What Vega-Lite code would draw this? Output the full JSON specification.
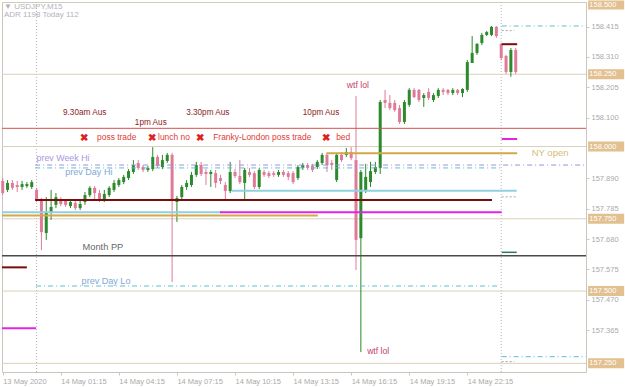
{
  "$schema": "https://vega.github.io/schema/vega-lite/v6.json",
  "width": 584,
  "height": 370,
  "autosize": "none",
  "padding": {"left": 2, "top": 2, "right": 39, "bottom": 15},
  "background": "white",
  "config": {"view": {"stroke": "#cbc6bb"}, "font": "Liberation Sans"},
  "datasets": {
    "candles": [
      {"i":0,"o":157.881,"h":157.891,"l":157.832,"c":157.839},
      {"i":1,"o":157.850,"h":157.884,"l":157.843,"c":157.874},
      {"i":2,"o":157.874,"h":157.884,"l":157.850,"c":157.857},
      {"i":3,"o":157.867,"h":157.881,"l":157.843,"c":157.860},
      {"i":4,"o":157.860,"h":157.881,"l":157.850,"c":157.870},
      {"i":5,"o":157.863,"h":157.877,"l":157.857,"c":157.870},
      {"i":6,"o":157.860,"h":157.884,"l":157.853,"c":157.877},
      {"i":7,"o":157.850,"h":157.857,"l":157.808,"c":157.815},
      {"i":8,"o":157.815,"h":157.822,"l":157.642,"c":157.704},
      {"i":9,"o":157.701,"h":157.825,"l":157.677,"c":157.770},
      {"i":10,"o":157.770,"h":157.850,"l":157.746,"c":157.791},
      {"i":11,"o":157.798,"h":157.839,"l":157.787,"c":157.825},
      {"i":12,"o":157.815,"h":157.825,"l":157.794,"c":157.801},
      {"i":13,"o":157.812,"h":157.818,"l":157.791,"c":157.798},
      {"i":14,"o":157.794,"h":157.818,"l":157.787,"c":157.808},
      {"i":15,"o":157.805,"h":157.815,"l":157.780,"c":157.787},
      {"i":16,"o":157.787,"h":157.815,"l":157.780,"c":157.801},
      {"i":17,"o":157.808,"h":157.843,"l":157.798,"c":157.832},
      {"i":18,"o":157.832,"h":157.863,"l":157.825,"c":157.857},
      {"i":19,"o":157.857,"h":157.863,"l":157.815,"c":157.839},
      {"i":20,"o":157.839,"h":157.850,"l":157.808,"c":157.818},
      {"i":21,"o":157.815,"h":157.850,"l":157.808,"c":157.836},
      {"i":22,"o":157.832,"h":157.863,"l":157.825,"c":157.857},
      {"i":23,"o":157.850,"h":157.884,"l":157.843,"c":157.874},
      {"i":24,"o":157.867,"h":157.891,"l":157.860,"c":157.884},
      {"i":25,"o":157.877,"h":157.902,"l":157.870,"c":157.895},
      {"i":26,"o":157.891,"h":157.922,"l":157.884,"c":157.915},
      {"i":27,"o":157.912,"h":157.953,"l":157.905,"c":157.936},
      {"i":28,"o":157.943,"h":157.953,"l":157.919,"c":157.926},
      {"i":29,"o":157.929,"h":157.936,"l":157.912,"c":157.919},
      {"i":30,"o":157.919,"h":157.933,"l":157.912,"c":157.926},
      {"i":31,"o":157.922,"h":157.998,"l":157.915,"c":157.964},
      {"i":32,"o":157.964,"h":157.971,"l":157.926,"c":157.933},
      {"i":33,"o":157.929,"h":157.971,"l":157.922,"c":157.953},
      {"i":34,"o":157.950,"h":157.978,"l":157.943,"c":157.971},
      {"i":35,"o":157.971,"h":157.978,"l":157.531,"c":157.818},
      {"i":36,"o":157.808,"h":157.829,"l":157.739,"c":157.822},
      {"i":37,"o":157.825,"h":157.867,"l":157.818,"c":157.860},
      {"i":38,"o":157.860,"h":157.884,"l":157.850,"c":157.874},
      {"i":39,"o":157.867,"h":157.912,"l":157.860,"c":157.902},
      {"i":40,"o":157.902,"h":157.947,"l":157.895,"c":157.936},
      {"i":41,"o":157.936,"h":157.947,"l":157.898,"c":157.905},
      {"i":42,"o":157.912,"h":157.922,"l":157.867,"c":157.905},
      {"i":43,"o":157.905,"h":157.919,"l":157.860,"c":157.912},
      {"i":44,"o":157.908,"h":157.919,"l":157.857,"c":157.874},
      {"i":45,"o":157.891,"h":157.902,"l":157.870,"c":157.881},
      {"i":46,"o":157.867,"h":157.877,"l":157.815,"c":157.846},
      {"i":47,"o":157.846,"h":157.947,"l":157.839,"c":157.912},
      {"i":48,"o":157.912,"h":157.922,"l":157.891,"c":157.898},
      {"i":49,"o":157.898,"h":157.953,"l":157.870,"c":157.877},
      {"i":50,"o":157.874,"h":157.926,"l":157.815,"c":157.919},
      {"i":51,"o":157.912,"h":157.926,"l":157.895,"c":157.902},
      {"i":52,"o":157.908,"h":157.915,"l":157.853,"c":157.860},
      {"i":53,"o":157.860,"h":157.926,"l":157.853,"c":157.919},
      {"i":54,"o":157.912,"h":157.919,"l":157.895,"c":157.902},
      {"i":55,"o":157.908,"h":157.915,"l":157.891,"c":157.898},
      {"i":56,"o":157.908,"h":157.915,"l":157.895,"c":157.902},
      {"i":57,"o":157.902,"h":157.919,"l":157.895,"c":157.912},
      {"i":58,"o":157.912,"h":157.919,"l":157.895,"c":157.902},
      {"i":59,"o":157.908,"h":157.915,"l":157.884,"c":157.895},
      {"i":60,"o":157.908,"h":157.915,"l":157.870,"c":157.877},
      {"i":61,"o":157.891,"h":157.936,"l":157.884,"c":157.929},
      {"i":62,"o":157.926,"h":157.943,"l":157.919,"c":157.936},
      {"i":63,"o":157.936,"h":157.943,"l":157.919,"c":157.926},
      {"i":64,"o":157.933,"h":157.940,"l":157.912,"c":157.919},
      {"i":65,"o":157.929,"h":157.953,"l":157.922,"c":157.947},
      {"i":66,"o":157.943,"h":157.978,"l":157.936,"c":157.971},
      {"i":67,"o":157.971,"h":157.978,"l":157.912,"c":157.936},
      {"i":68,"o":157.943,"h":157.953,"l":157.919,"c":157.936},
      {"i":69,"o":157.884,"h":157.978,"l":157.877,"c":157.971},
      {"i":70,"o":157.971,"h":157.981,"l":157.947,"c":157.953},
      {"i":71,"o":157.971,"h":157.995,"l":157.964,"c":157.981},
      {"i":72,"o":157.981,"h":157.998,"l":157.953,"c":157.960},
      {"i":73,"o":157.953,"h":158.175,"l":157.573,"c":157.677},
      {"i":74,"o":157.683,"h":157.919,"l":157.289,"c":157.912},
      {"i":75,"o":157.846,"h":157.940,"l":157.839,"c":157.895},
      {"i":76,"o":157.877,"h":157.947,"l":157.860,"c":157.915},
      {"i":77,"o":157.912,"h":157.947,"l":157.905,"c":157.929},
      {"i":78,"o":157.926,"h":158.161,"l":157.905,"c":158.154},
      {"i":79,"o":158.161,"h":158.196,"l":158.133,"c":158.151},
      {"i":80,"o":158.151,"h":158.178,"l":158.126,"c":158.133},
      {"i":81,"o":158.151,"h":158.161,"l":158.120,"c":158.126},
      {"i":82,"o":158.133,"h":158.144,"l":158.078,"c":158.085},
      {"i":83,"o":158.085,"h":158.161,"l":158.078,"c":158.154},
      {"i":84,"o":158.144,"h":158.202,"l":158.137,"c":158.196},
      {"i":85,"o":158.196,"h":158.202,"l":158.168,"c":158.171},
      {"i":86,"o":158.196,"h":158.199,"l":158.154,"c":158.161},
      {"i":87,"o":158.168,"h":158.185,"l":158.137,"c":158.178},
      {"i":88,"o":158.189,"h":158.202,"l":158.161,"c":158.168},
      {"i":89,"o":158.161,"h":158.185,"l":158.154,"c":158.178},
      {"i":90,"o":158.175,"h":158.202,"l":158.168,"c":158.196},
      {"i":91,"o":158.196,"h":158.202,"l":158.178,"c":158.189},
      {"i":92,"o":158.196,"h":158.199,"l":158.178,"c":158.185},
      {"i":93,"o":158.185,"h":158.202,"l":158.178,"c":158.196},
      {"i":94,"o":158.196,"h":158.199,"l":158.178,"c":158.185},
      {"i":95,"o":158.185,"h":158.202,"l":158.171,"c":158.199},
      {"i":96,"o":158.196,"h":158.299,"l":158.189,"c":158.292},
      {"i":97,"o":158.289,"h":158.382,"l":158.289,"c":158.324},
      {"i":98,"o":158.324,"h":158.358,"l":158.317,"c":158.355},
      {"i":99,"o":158.358,"h":158.393,"l":158.351,"c":158.386},
      {"i":100,"o":158.386,"h":158.400,"l":158.382,"c":158.396},
      {"i":101,"o":158.386,"h":158.417,"l":158.382,"c":158.414},
      {"i":102,"o":158.414,"h":158.417,"l":158.376,"c":158.382},
      {"i":103,"o":158.355,"h":158.358,"l":158.299,"c":158.306},
      {"i":104,"o":158.313,"h":158.317,"l":158.251,"c":158.258},
      {"i":105,"o":158.258,"h":158.341,"l":158.241,"c":158.334},
      {"i":106,"o":158.334,"h":158.341,"l":158.251,"c":158.258}
    ],
    "segs": [
      {"k":"round","x1":-0.145,"x2":120.52,"p":158.5},
      {"k":"round","x1":-0.145,"x2":120.52,"p":158.25},
      {"k":"round","x1":-0.145,"x2":120.52,"p":158.0},
      {"k":"round","x1":-0.145,"x2":120.52,"p":157.75},
      {"k":"round","x1":-0.145,"x2":120.52,"p":157.5},
      {"k":"round","x1":-0.145,"x2":120.52,"p":157.25},
      {"k":"red","x1":-0.145,"x2":120.52,"p":158.063},
      {"k":"mpp","x1":-0.145,"x2":120.52,"p":157.622},
      {"k":"pwh","x1":6.7,"x2":120.52,"p":157.936},
      {"k":"pd","x1":6.7,"x2":102.9,"p":157.926},
      {"k":"pd","x1":103.1,"x2":120.52,"p":158.417},
      {"k":"pd","x1":6.9,"x2":102.3,"p":157.5175},
      {"k":"pd","x1":103.1,"x2":120.52,"p":157.273},
      {"k":"maroon","x1":-0.145,"x2":5.0,"p":157.582},
      {"k":"maroon","x1":6.7,"x2":101.1,"p":157.815},
      {"k":"maroon","x1":103.1,"x2":106.3,"p":158.354},
      {"k":"magenta","x1":-0.145,"x2":6.9,"p":157.371},
      {"k":"magenta","x1":44.9,"x2":103.1,"p":157.7725},
      {"k":"magenta","x1":103.1,"x2":106.3,"p":158.026},
      {"k":"lblue","x1":-0.145,"x2":45.3,"p":157.7725},
      {"k":"lblue","x1":47.3,"x2":106.2,"p":157.847},
      {"k":"gold","x1":-0.145,"x2":65.1,"p":157.761},
      {"k":"gold","x1":66.9,"x2":106.3,"p":157.977},
      {"k":"dkgreen","x1":103.1,"x2":106.2,"p":157.634},
      {"k":"gdot","x1":103.1,"x2":105.7,"p":158.401},
      {"k":"gdot","x1":103.1,"x2":106.0,"p":157.826},
      {"k":"gdot","x1":103.1,"x2":105.7,"p":157.256}
    ],
    "levels": [
      {"p":158.5,"t":"158.500"},
      {"p":158.25,"t":"158.250"},
      {"p":158.0,"t":"158.000"},
      {"p":157.75,"t":"157.750"},
      {"p":157.5,"t":"157.500"},
      {"p":157.25,"t":"157.250"}
    ],
    "vlines": [{"i":7},{"i":103}],
    "notes": [
      {"k":"hdr","i":0.27,"p":158.483,"t":"▼ USDJPY,M15"},
      {"k":"hdr","i":0.27,"p":158.455,"t":"ADR 1198   Today 112"},
      {"k":"aus","i":12.46,"p":158.117,"t":"9.30am Aus"},
      {"k":"aus","i":27.3,"p":158.082,"t":"1pm Aus"},
      {"k":"aus","i":37.9,"p":158.116,"t":"3.30pm Aus"},
      {"k":"aus","i":62.0,"p":158.116,"t":"10pm Aus"},
      {"k":"red","i":19.5,"p":158.033,"t":"poss trade"},
      {"k":"red","i":32.1,"p":158.033,"t":"lunch no"},
      {"k":"red","i":43.5,"p":158.033,"t":"Franky-London poss trade"},
      {"k":"red","i":68.9,"p":158.033,"t":"bed"},
      {"k":"wtf","i":71.1,"p":158.213,"t":"wtf lol"},
      {"k":"wtf","i":75.3,"p":157.293,"t":"wtf lol"},
      {"k":"pwh","i":7.0,"p":157.960,"t":"prev Week Hi"},
      {"k":"pd","i":12.9,"p":157.913,"t":"prev Day Hi"},
      {"k":"pd","i":16.3,"p":157.535,"t":"prev Day Lo"},
      {"k":"mpp","i":16.5,"p":157.652,"t":"Month PP"},
      {"k":"ny","i":109.3,"p":157.978,"t":"NY open"}
    ],
    "marks": [
      {"i":16.8,"p":158.030},
      {"i":30.8,"p":158.030},
      {"i":40.8,"p":158.030},
      {"i":66.8,"p":158.030}
    ]
  },
  "layer": [
    {
      "data": {"name": "vlines"},
      "mark": {"type": "rule", "color": "#b5b5b5", "strokeDash": [1, 2], "strokeWidth": 1},
      "encoding": {
        "x": {"field": "i", "type": "quantitative",
          "scale": {"domain": [-0.145, 120.52], "nice": false, "zero": false},
          "axis": {"orient": "bottom", "values": [0,12,24,36,48,60,72,84,96], "title": null, "grid": false, "domain": false,
            "labelExpr": "['13 May 2020','14 May 01:15','14 May 04:15','14 May 07:15','14 May 10:15','14 May 13:15','14 May 16:15','14 May 19:15','14 May 22:15'][round(datum.value/12)]",
            "labelAlign": "left", "labelFlush": false, "labelOverlap": false, "labelFontSize": 7.5, "labelColor": "#aaaaaa",
            "labelPadding": 2, "tickSize": 3, "tickColor": "#c8c8c8"}}
      }
    },
    {
      "data": {"name": "segs"},
      "transform": [{"filter": "datum.k == 'round'"}],
      "mark": {"type": "rule", "color": "#d8d1b8", "strokeWidth": 1, "clip": true},
      "encoding": {
        "x": {"field": "x1", "type": "quantitative"},
        "x2": {"field": "x2"},
        "y": {"field": "p", "type": "quantitative",
          "scale": {"domain": [157.22, 158.5], "nice": false, "zero": false},
          "axis": {"orient": "right", "values": [158.415,158.31,158.205,158.1,157.89,157.785,157.68,157.575,157.47,157.365],
            "format": ".3f", "title": null, "grid": false, "domain": false, "labelFontSize": 7.5, "labelColor": "#aaaaaa",
            "labelPadding": 2, "tickSize": 3, "tickColor": "#c8c8c8"}}
      }
    },
    {
      "data": {"name": "candles"},
      "mark": {"type": "rule", "strokeWidth": 1},
      "encoding": {
        "x": {"field": "i", "type": "quantitative"},
        "y": {"field": "l", "type": "quantitative"},
        "y2": {"field": "h"},
        "color": {"condition": {"test": "datum.c >= datum.o", "value": "#2b8a2b"}, "value": "#df7a98"}
      }
    },
    {
      "data": {"name": "candles"},
      "mark": {"type": "rule", "strokeWidth": 3},
      "encoding": {
        "x": {"field": "i", "type": "quantitative"},
        "y": {"field": "o", "type": "quantitative"},
        "y2": {"field": "c"},
        "color": {"condition": {"test": "datum.c >= datum.o", "value": "#2b8a2b"}, "value": "#df7a98"}
      }
    },
    {
      "data": {"name": "segs"},
      "transform": [{"filter": "datum.k == 'red'"}],
      "mark": {"type": "rule", "color": "#d65050", "strokeWidth": 1, "clip": true},
      "encoding": {"x": {"field": "x1", "type": "quantitative"}, "x2": {"field": "x2"}, "y": {"field": "p", "type": "quantitative"}}
    },
    {
      "data": {"name": "segs"},
      "transform": [{"filter": "datum.k == 'mpp'"}],
      "mark": {"type": "rule", "color": "#4a4a4a", "strokeWidth": 1.5, "clip": true},
      "encoding": {"x": {"field": "x1", "type": "quantitative"}, "x2": {"field": "x2"}, "y": {"field": "p", "type": "quantitative"}}
    },
    {
      "data": {"name": "segs"},
      "transform": [{"filter": "datum.k == 'pwh'"}],
      "mark": {"type": "rule", "color": "#a58be0", "strokeWidth": 1, "strokeDash": [5, 3, 1, 3], "clip": true},
      "encoding": {"x": {"field": "x1", "type": "quantitative"}, "x2": {"field": "x2"}, "y": {"field": "p", "type": "quantitative"}}
    },
    {
      "data": {"name": "segs"},
      "transform": [{"filter": "datum.k == 'pd'"}],
      "mark": {"type": "rule", "color": "#5bbfcf", "strokeWidth": 1, "strokeDash": [5, 3, 1, 3], "clip": true},
      "encoding": {"x": {"field": "x1", "type": "quantitative"}, "x2": {"field": "x2"}, "y": {"field": "p", "type": "quantitative"}}
    },
    {
      "data": {"name": "segs"},
      "transform": [{"filter": "datum.k == 'lblue'"}],
      "mark": {"type": "rule", "color": "#92d0e0", "strokeWidth": 2, "clip": true},
      "encoding": {"x": {"field": "x1", "type": "quantitative"}, "x2": {"field": "x2"}, "y": {"field": "p", "type": "quantitative"}}
    },
    {
      "data": {"name": "segs"},
      "transform": [{"filter": "datum.k == 'gold'"}],
      "mark": {"type": "rule", "color": "#d2a84a", "strokeWidth": 2, "clip": true},
      "encoding": {"x": {"field": "x1", "type": "quantitative"}, "x2": {"field": "x2"}, "y": {"field": "p", "type": "quantitative"}}
    },
    {
      "data": {"name": "segs"},
      "transform": [{"filter": "datum.k == 'magenta'"}],
      "mark": {"type": "rule", "color": "#e424e4", "strokeWidth": 2, "clip": true},
      "encoding": {"x": {"field": "x1", "type": "quantitative"}, "x2": {"field": "x2"}, "y": {"field": "p", "type": "quantitative"}}
    },
    {
      "data": {"name": "segs"},
      "transform": [{"filter": "datum.k == 'maroon'"}],
      "mark": {"type": "rule", "color": "#7a0c0c", "strokeWidth": 2, "clip": true},
      "encoding": {"x": {"field": "x1", "type": "quantitative"}, "x2": {"field": "x2"}, "y": {"field": "p", "type": "quantitative"}}
    },
    {
      "data": {"name": "segs"},
      "transform": [{"filter": "datum.k == 'dkgreen'"}],
      "mark": {"type": "rule", "color": "#2a7a5a", "strokeWidth": 1.5, "clip": true},
      "encoding": {"x": {"field": "x1", "type": "quantitative"}, "x2": {"field": "x2"}, "y": {"field": "p", "type": "quantitative"}}
    },
    {
      "data": {"name": "segs"},
      "transform": [{"filter": "datum.k == 'gdot'"}],
      "mark": {"type": "rule", "color": "#a8a8a8", "strokeWidth": 1, "strokeDash": [2, 2], "clip": true},
      "encoding": {"x": {"field": "x1", "type": "quantitative"}, "x2": {"field": "x2"}, "y": {"field": "p", "type": "quantitative"}}
    },
    {
      "data": {"name": "notes"},
      "mark": {"type": "text", "align": "left", "baseline": "middle"},
      "encoding": {
        "x": {"field": "i", "type": "quantitative"},
        "y": {"field": "p", "type": "quantitative"},
        "text": {"field": "t"},
        "size": {"field": "k", "type": "nominal", "scale": {"domain": ["hdr","aus","red","wtf","pwh","pd","mpp","ny"], "range": [8,9.5,9.5,9.5,9.5,9.5,9.5,9.5]}, "legend": null},
        "color": {"field": "k", "type": "nominal", "scale": {"domain": ["hdr","aus","red","wtf","pwh","pd","mpp","ny"], "range": ["#b2b2bc","#8e1c1c","#e03c36","#c8406a","#a899dd","#7fa8d6","#666666","#d4bd78"]}, "legend": null}
      }
    },
    {
      "data": {"name": "marks"},
      "mark": {"type": "text", "align": "center", "baseline": "middle", "fontSize": 10, "fontWeight": "bold", "color": "#e02020", "text": "✖"},
      "encoding": {
        "x": {"field": "i", "type": "quantitative"},
        "y": {"field": "p", "type": "quantitative"}
      }
    },
    {
      "data": {"name": "levels"},
      "transform": [{"filter": "datum.p < 158.4"}],
      "mark": {"type": "rule", "color": "#e2c08f", "strokeWidth": 10},
      "encoding": {
        "x": {"datum": 120.95, "type": "quantitative"},
        "x2": {"datum": 128.4},
        "y": {"field": "p", "type": "quantitative"}
      }
    },
    {
      "data": {"name": "levels"},
      "transform": [{"filter": "datum.p < 158.4"}],
      "mark": {"type": "text", "align": "left", "baseline": "middle", "fontSize": 7.5, "color": "#ffffff"},
      "encoding": {
        "x": {"datum": 121.2, "type": "quantitative"},
        "y": {"field": "p", "type": "quantitative"},
        "text": {"field": "t"}
      }
    },
    {
      "data": {"name": "levels"},
      "transform": [{"filter": "datum.p > 158.4"}],
      "mark": {"type": "rule", "color": "#e2c08f", "strokeWidth": 9, "yOffset": 3},
      "encoding": {
        "x": {"datum": 120.95, "type": "quantitative"},
        "x2": {"datum": 128.4},
        "y": {"field": "p", "type": "quantitative"}
      }
    },
    {
      "data": {"name": "levels"},
      "transform": [{"filter": "datum.p > 158.4"}],
      "mark": {"type": "text", "align": "left", "baseline": "middle", "fontSize": 7.5, "color": "#ffffff", "yOffset": 3},
      "encoding": {
        "x": {"datum": 121.2, "type": "quantitative"},
        "y": {"field": "p", "type": "quantitative"},
        "text": {"field": "t"}
      }
    }
  ]
}
